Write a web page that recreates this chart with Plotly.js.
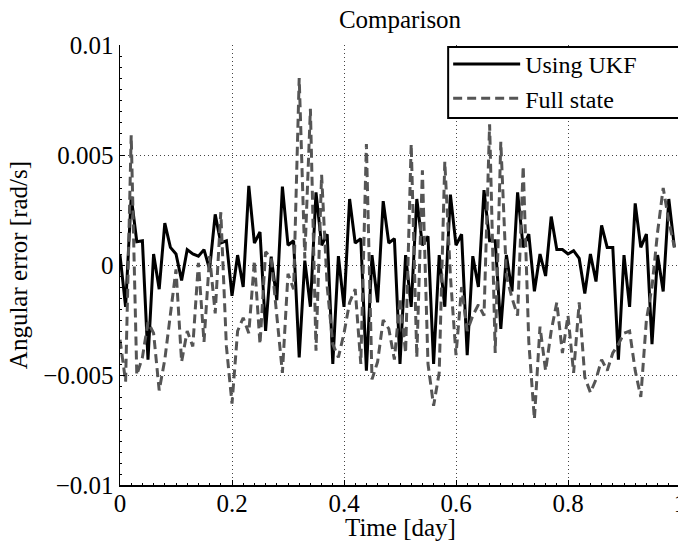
<!DOCTYPE html>
<html>
<head>
<meta charset="utf-8">
<script src="https://cdn.plot.ly/plotly-3.0.1.min.js"></script>
<style>
html,body{margin:0;padding:0;overflow:hidden;background:#fff;}
#chart{width:700px;height:542px;}
</style>
</head>
<body>
<div id="chart"></div>
<script>
const timeDay = [0,0.01,0.02,0.03,0.04,0.05,0.06,0.07,0.08,0.09,
0.1,0.11,0.12,0.13,0.14,0.15,0.16,0.17,0.18,0.19,
0.2,0.21,0.22,0.23,0.24,0.25,0.26,0.27,0.28,0.29,
0.3,0.31,0.32,0.33,0.34,0.35,0.36,0.37,0.38,0.39,
0.4,0.41,0.42,0.43,0.44,0.45,0.46,0.47,0.48,0.49,
0.5,0.51,0.52,0.53,0.54,0.55,0.56,0.57,0.58,0.59,
0.6,0.61,0.62,0.63,0.64,0.65,0.66,0.67,0.68,0.69,
0.7,0.71,0.72,0.73,0.74,0.75,0.76,0.77,0.78,0.79,
0.8,0.81,0.82,0.83,0.84,0.85,0.86,0.87,0.88,0.89,
0.9,0.91,0.92,0.93,0.94,0.95,0.96,0.97,0.98,0.99];

const usingUKF = [
0.00045,-0.0019,0.0031,0.00106,0.0011,-0.0043,0.0005,-0.0011,0.0019,0.0008,
0.0005,-0.0007,0.0007,0.0005,0.0004,0.0007,-0.0002,0.0023,0.001,0.0011,
-0.0014,0.00045,-0.001,0.0036,0.001,0.0015,-0.003,0.00038,-0.0016,0.00356,
0.0009,0.0011,-0.0042,0.0002,-0.0019,0.0033,0.0009,0.0014,-0.0045,0.0004,
-0.0019,0.003,0.001,0.0012,-0.0048,0.00045,-0.0017,0.0029,0.001,0.0012,
-0.0045,0.00045,-0.0019,0.003,0.0009,0.0013,-0.0045,0.00045,-0.0019,0.0032,
0.0009,0.0014,-0.0041,0.0004,-0.001,0.0034,0.0011,0.0011,-0.0029,0.00045,
-0.0012,0.0033,0.0008,0.0014,-0.0012,0.0005,-0.0005,0.0022,0.0007,0.0007,
0.0005,0.00065,0.0003,-0.0013,0.0005,-0.00075,0.0018,0.0008,0.0008,-0.0043,
0.00045,-0.0019,0.0028,0.0008,0.0014,-0.0036,0.00045,-0.0012,0.003,0.0008];

const fullState = [
-0.0034,-0.0053,0.0059,-0.005,-0.0042,-0.0026,-0.0031,-0.0057,-0.0043,-0.0022,
-0.0002,-0.0044,-0.003,-0.0037,0.0001,-0.0035,0.0004,-0.0022,0.0024,-0.0037,
-0.0063,-0.003,-0.0024,-0.0031,0.0002,-0.0036,0.0006,0.0003,-0.0022,-0.0049,
-0.0004,-0.0011,0.0085,0.0003,0.0071,-0.0039,0.0041,-0.001,-0.0036,-0.0042,
-0.0031,-0.0017,-0.0011,-0.0045,0.0055,-0.0052,-0.0044,-0.0025,-0.0029,-0.0043,
-0.0015,-0.004,0.0055,-0.0042,0.0043,-0.0045,-0.0064,-0.0049,0.0047,-0.0005,
-0.0041,-0.001,-0.003,-0.0023,-0.0018,-0.0023,0.0064,-0.004,0.0056,-0.0005,
-0.0015,-0.0023,0.0045,-0.0035,-0.007,-0.0028,-0.0048,-0.003,-0.0017,-0.004,
-0.0023,-0.0049,-0.0017,-0.0051,-0.0058,-0.0052,-0.0043,-0.0048,-0.004,-0.0036,
-0.0031,-0.003,-0.0048,-0.006,-0.0025,-0.001,0.0015,0.0035,0.002,0.0008];

const seriesNames = ["Using UKF", "Full state"];
const xTickVals = [0,0.2,0.4,0.6,0.8,1];
const xTickText = ["0","0.2","0.4","0.6","0.8","1"];
const yTickVals = [-0.01,-0.005,0,0.005,0.01];
const yTickText = ["\u22120.01","\u22120.005","0","0.005","0.01"];
const xTitle = "Time [day]";
const yTitle = "Angular error [rad/s]";
const chartTitle = "Comparison";

const FONT = "Liberation Serif";
const FS = 25;

const traces = [
  {x: timeDay, y: usingUKF, name: seriesNames[0], type: "scatter", mode: "lines",
   line: {color: "#000000", width: 3}},
  {x: timeDay, y: fullState, name: seriesNames[1], type: "scatter", mode: "lines",
   line: {color: "#555555", width: 3, dash: "9px,5px"}}
];

const gridCommon = {
  showgrid: true, gridcolor: "#444444", gridwidth: 1, griddash: "1px,3px",
  zeroline: false, showline: true, linecolor: "#000000", linewidth: 1.5,
  ticks: "inside", ticklen: 5, tickcolor: "#000000", tickwidth: 1,
  tickfont: {family: FONT, size: FS, color: "#000"}
};

const layout = {
  width: 700, height: 542,
  margin: {l: 120, r: 20, t: 45, b: 57},
  paper_bgcolor: "#ffffff", plot_bgcolor: "#ffffff",
  font: {family: FONT, size: FS, color: "#000"},
  title: {text: chartTitle, font: {family: FONT, size: FS, color: "#000"},
          x: 400/700, xanchor: "center", y: 0.965, yanchor: "middle"},
  xaxis: Object.assign({}, gridCommon, {
    range: [0, 1], tickvals: xTickVals, ticktext: xTickText,
    ticklabelstandoff: -5,
    minor: {ticks: "inside", ticklen: 2, dtick: 0.02, tickcolor: "#000", showgrid: false}
  }),
  yaxis: Object.assign({}, gridCommon, {
    range: [-0.01, 0.01], tickvals: yTickVals, ticktext: yTickText,
    title: {text: yTitle, font: {family: FONT, size: FS, color: "#000"}, standoff: 8},
    minor: {ticks: "inside", ticklen: 2, dtick: 0.0005, tickcolor: "#000", showgrid: false}
  }),
  annotations: [{
    text: xTitle, xref: "paper", yref: "paper", x: 0.5, y: -0.097,
    xanchor: "center", yanchor: "middle", showarrow: false,
    font: {family: FONT, size: FS, color: "#000"}
  }],
  shapes: [{
    type: "rect", xref: "paper", yref: "paper", x0: 0.586, x1: 1.2, y0: 0.834, y1: 0.9955,
    fillcolor: "#ffffff", line: {color: "#000000", width: 2}, layer: "above"
  }],
  showlegend: true,
  legend: {x: 0.586, y: 1.007, xanchor: "left", yanchor: "top",
           bgcolor: "rgba(0,0,0,0)", borderwidth: 0,
           font: {family: FONT, size: 24, color: "#000"},
           tracegroupgap: 0, itemwidth: 67}
};

Plotly.newPlot("chart", traces, layout, {displayModeBar: false, staticPlot: true});
</script>
</body>
</html>
